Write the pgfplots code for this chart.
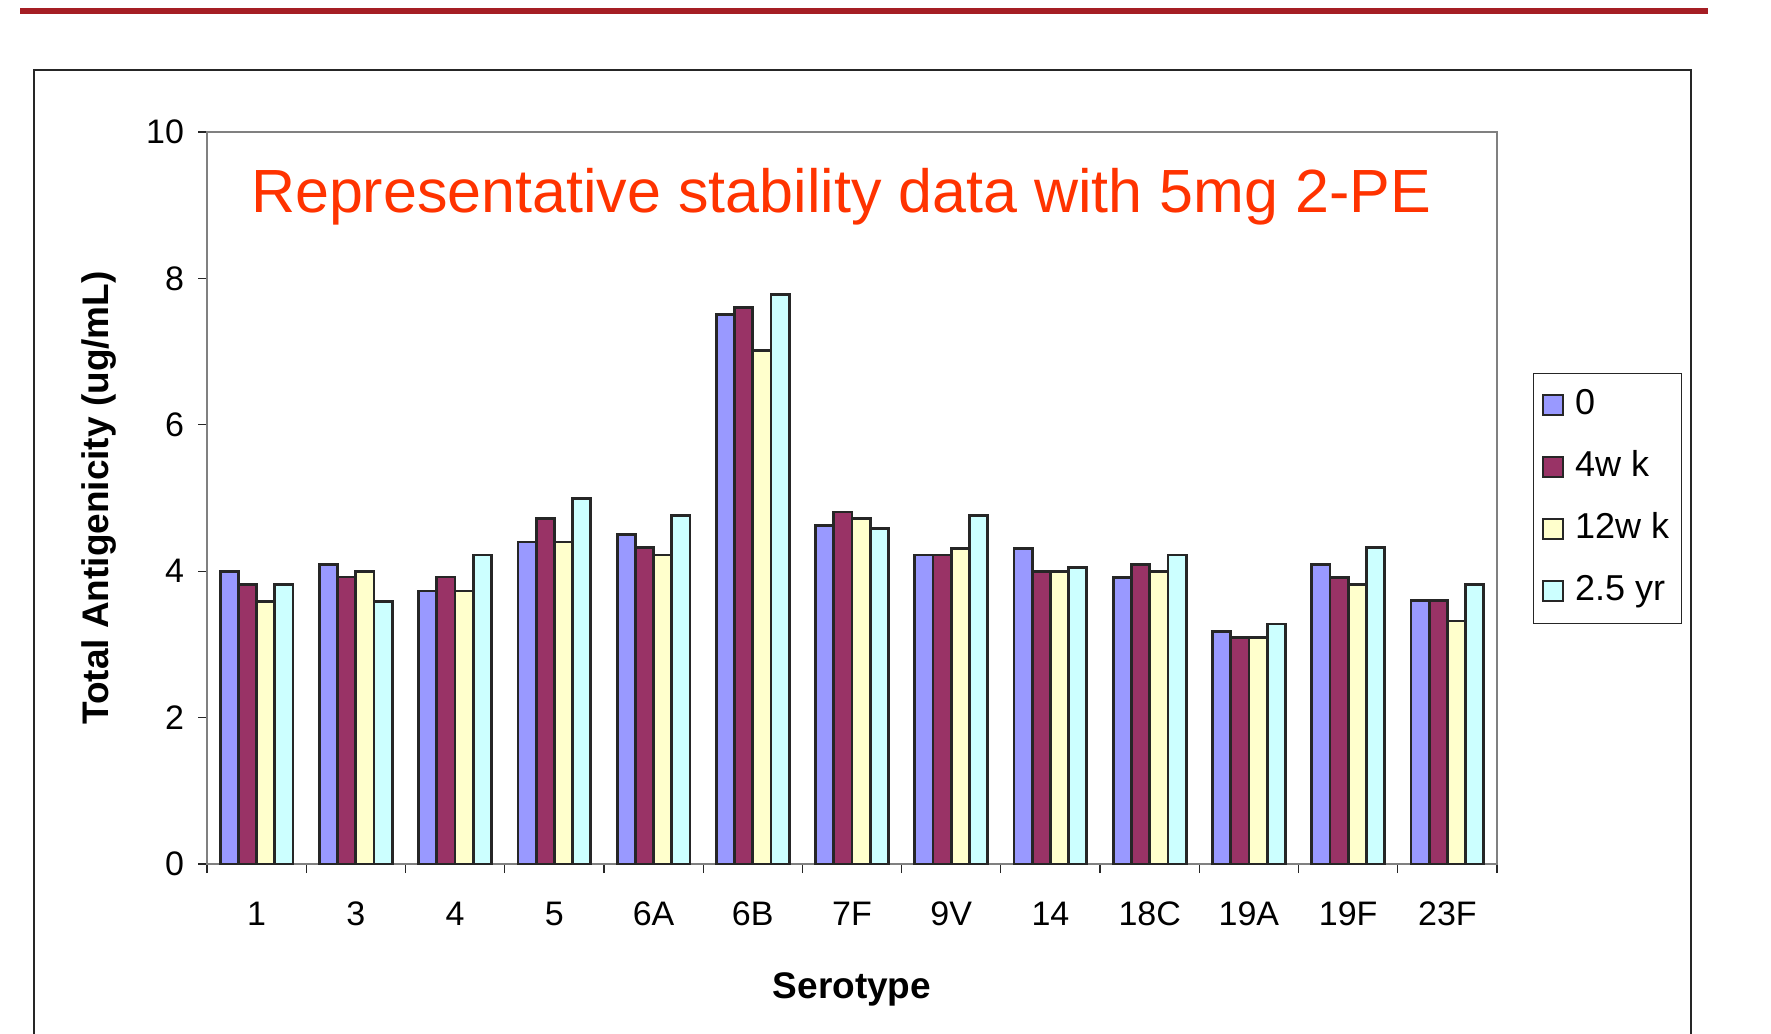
\documentclass[border=0pt]{standalone}
\usepackage{pgfplots}
\pgfplotsset{compat=1.18}
\usepackage{pgfplotstable}
\usepackage{fontspec}
\setmainfont{Liberation Sans}
\definecolor{c0}{RGB}{153,153,255}
\definecolor{c4}{RGB}{153,51,102}
\definecolor{c12}{RGB}{255,255,204}
\definecolor{c25}{RGB}{204,255,255}
\definecolor{titlered}{RGB}{255,51,0}
\definecolor{topbar}{RGB}{165,30,36}
\pgfplotstableread{
x a b c d
0 4.00 3.82 3.59 3.82
1 4.09 3.92 4.00 3.59
2 3.73 3.92 3.73 4.22
3 4.40 4.72 4.40 4.99
4 4.50 4.32 4.22 4.76
5 7.51 7.60 7.01 7.78
6 4.62 4.81 4.72 4.58
7 4.22 4.22 4.31 4.76
8 4.31 4.00 4.00 4.05
9 3.91 4.09 4.00 4.22
10 3.18 3.09 3.09 3.28
11 4.09 3.91 3.82 4.32
12 3.60 3.60 3.32 3.82
}\data
\begin{document}
\begin{tikzpicture}
\path[use as bounding box] (0pt,0pt) rectangle (885.5pt,516.5pt);
\begin{scope}
\clip (0pt,0pt) rectangle (885.5pt,516.5pt);
\draw[black!85, line width=0.7pt] (17pt,-5pt) -- (17pt,481.5pt) -- (845.5pt,481.5pt) -- (845.5pt,-5pt);
\end{scope}
\fill[topbar] (10pt,509.6pt) rectangle (854pt,512.4pt);
\begin{axis}[
  at={(103.5pt,84.5pt)}, anchor=south west,
  scale only axis, width=645pt, height=366pt,
  ymin=0, ymax=10, ytick={0,2,...,10},
  xmin=-0.5, xmax=12.5,
  ybar=0pt, bar width=9.1pt,
  xtick={0,...,12},
  xticklabels={1,3,4,5,6A,6B,7F,9V,14,18C,19A,19F,23F},
  major x tick style={draw=none},
  minor xtick={-0.5,0.5,...,12.5},
  tick align=outside,
  major tick length=4.5pt, minor tick length=4.5pt,
  tick style={black!85, line width=0.6pt},
  axis line style={gray, line width=1pt},
  ytick pos=left, xtick pos=bottom,
  /pgf/number format/assume math mode=true,
  tick label style={font=\fontsize{17}{17}\selectfont},
  xticklabel style={yshift=-10.8pt},
  yticklabel style={xshift=-3.5pt},
  xlabel={Serotype},
  ylabel={Total Antigenicity (ug/mL)},
  every axis x label/.style={at={(axis description cs:0.5,-0.172)}, anchor=center, font=\bfseries\fontsize{18.5}{18.5}\selectfont},
  every axis y label/.style={at={(axis description cs:-0.0837,0.5)}, rotate=90, anchor=center, font=\bfseries\fontsize{18.5}{18.5}\selectfont},
  legend style={at={(1.0279,0.6708)}, anchor=north west, draw=black!85, line width=0.6pt,
    font=\fontsize{18}{18}\selectfont, row sep=14pt, inner xsep=4pt, inner ysep=7.4pt,
    nodes={inner ysep=0pt, text height=13pt, text depth=4pt},
    /tikz/every odd column/.append style={column sep=3.8pt}},
  legend cell align=left,
  legend image code/.code={\draw[#1, line width=1pt] (0pt,-5pt) rectangle (10pt,5pt);},
  every axis plot/.append style={draw=black!85, line width=1.4pt},
]
\addplot[fill=c0] table[x=x,y=a]{\data};
\addplot[fill=c4] table[x=x,y=b]{\data};
\addplot[fill=c12] table[x=x,y=c]{\data};
\addplot[fill=c25] table[x=x,y=d]{\data};
\legend{0,4w k,12w k,2.5 yr}
\node[anchor=base, text=titlered, font=\fontsize{30.5}{30.5}\selectfont, inner sep=0pt] at (axis description cs:0.4915,0.8907) {Representative stability data with 5mg 2-PE};
\end{axis}
\end{tikzpicture}
\end{document}
